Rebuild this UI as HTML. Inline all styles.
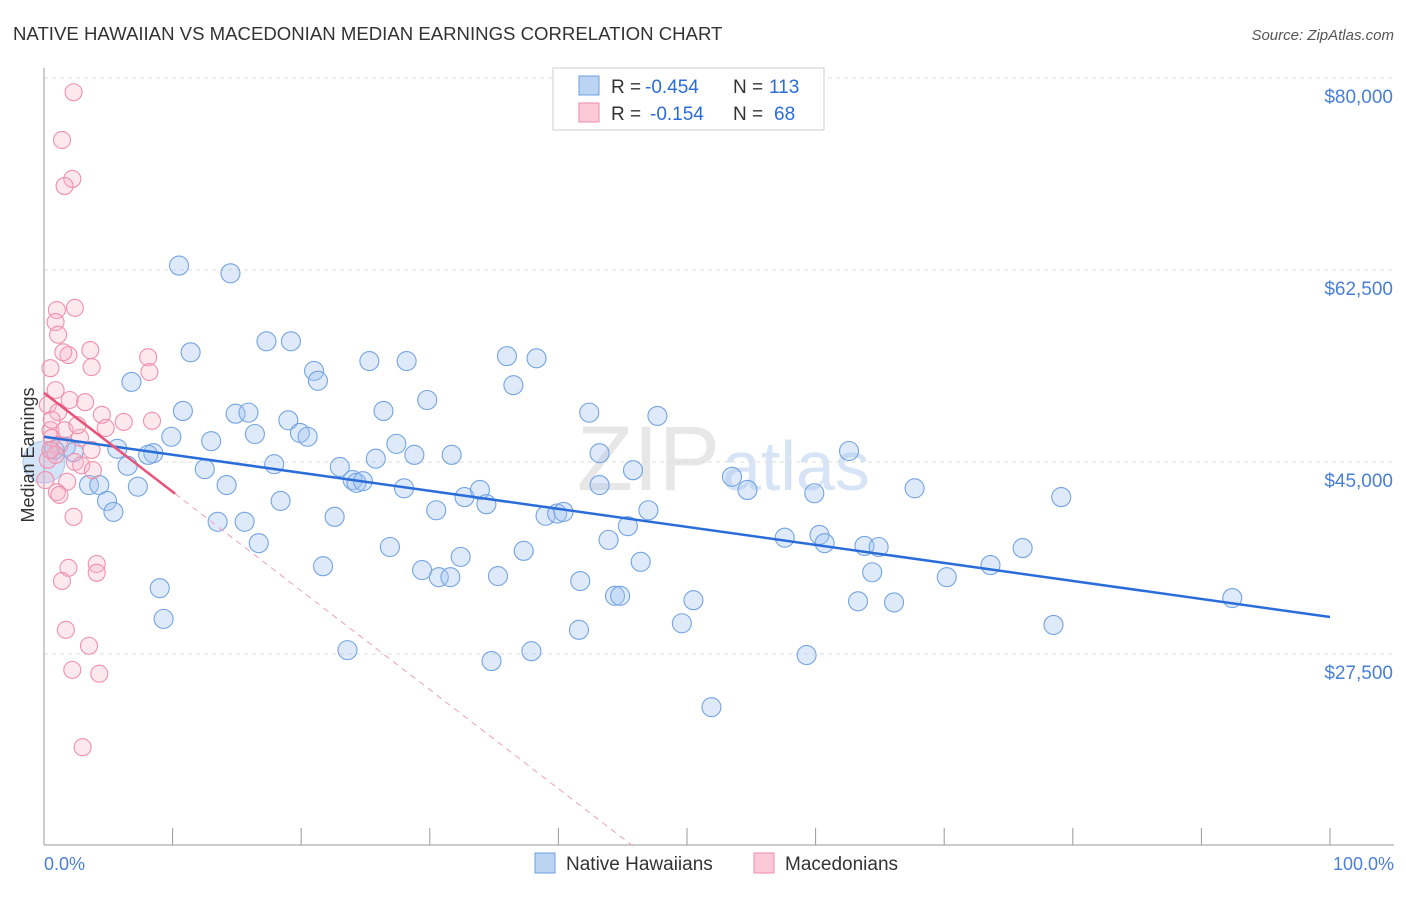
<!DOCTYPE html>
<html><head><meta charset="utf-8"><style>
body{margin:0;background:#fff;font-family:"Liberation Sans",sans-serif;}
svg text{font-family:"Liberation Sans",sans-serif;}
</style></head><body>
<svg id="chart" width="1406" height="892">
<text x="13" y="40" font-size="18.6" fill="#333">NATIVE HAWAIIAN VS MACEDONIAN MEDIAN EARNINGS CORRELATION CHART</text>
<text x="1394" y="40" font-size="15" fill="#555" text-anchor="end" font-style="italic">Source: ZipAtlas.com</text>
<text x="720" y="490" font-size="92" fill="#ddd" text-anchor="end" font-family="Liberation Serif" opacity="0.7">ZIP</text>
<text x="722" y="490" font-size="70" fill="#c5d9f2" opacity="0.7">atlas</text>
<g id="grid"></g><g id="axes"></g><g id="pts"></g><g id="lines"></g>
<text transform="translate(34,455) rotate(-90)" font-size="18" fill="#333" text-anchor="middle">Median Earnings</text>
<text x="44" y="870" font-size="18" fill="#4a7fd6">0.0%</text>
<text x="1394" y="870" font-size="18" fill="#4a7fd6" text-anchor="end">100.0%</text>
<g>
<rect x="553" y="68" width="271" height="62" fill="#fff" stroke="#ccc"/>
<rect x="579" y="76" width="20" height="19" fill="#bcd4f4" stroke="#6b9fe0"/>
<rect x="579" y="103" width="20" height="19" fill="#fbc9d8" stroke="#f08aa8"/>
<text x="611" y="93" font-size="19" fill="#333">R =</text>
<text x="645" y="93" font-size="19" fill="#2a6dd9">-0.454</text>
<text x="733" y="93" font-size="19" fill="#333">N =</text>
<text x="769" y="93" font-size="19" fill="#2a6dd9">113</text>
<text x="611" y="120" font-size="19" fill="#333">R =</text>
<text x="650" y="120" font-size="19" fill="#2a6dd9">-0.154</text>
<text x="733" y="120" font-size="19" fill="#333">N =</text>
<text x="774" y="120" font-size="19" fill="#2a6dd9">68</text>
</g>
<g>
<rect x="535" y="853" width="20" height="20" fill="#bcd4f4" stroke="#6b9fe0"/>
<text x="566" y="870" font-size="19" fill="#333">Native Hawaiians</text>
<rect x="754" y="853" width="20" height="20" fill="#fbc9d8" stroke="#f08aa8"/>
<text x="785" y="870" font-size="19" fill="#333">Macedonians</text>
</g>
</svg>
<script>
const yTicks=[80000,62500,45000,27500];
const yTickLabels=["$80,000","$62,500","$45,000","$27,500"];
const xTicks=[0,10,20,30,40,50,60,70,80,90,100];
const blueX=[10.5,14.5,11.4,17.3,19.2,6.8,10.8,14.9,15.9,21.0,21.3,25.3,28.2,36.0,38.3,36.5,26.4,29.8,42.4,47.7,5.7,9.9,13.0,16.4,19.0,19.9,20.5,8.5,8.1,6.5,12.5,14.2,17.9,23.0,24.0,24.3,24.8,25.8,27.4,28.8,31.7,28.0,43.2,45.8,53.5,62.6,67.7,79.1,3.5,4.3,7.3,4.9,5.4,18.4,13.5,15.6,22.6,30.5,32.7,33.9,34.4,39.0,39.9,40.4,43.2,47.0,45.4,54.7,59.9,16.7,26.9,32.4,37.3,43.9,46.4,57.6,60.3,60.7,63.8,64.9,73.6,76.1,9.0,21.7,29.4,30.7,31.6,35.3,41.7,44.4,44.8,50.5,64.4,70.2,9.3,49.6,63.3,66.1,78.5,92.4,23.6,34.8,37.9,41.6,59.3,51.9,1.7,2.3,0.8];
const blueY=[62900,62200,55000,56000,56000,52300,49650,49400,49500,53300,52400,54200,54200,54650,54450,52000,49650,50650,49500,49200,46200,47300,46900,47550,48800,47650,47300,45800,45650,44650,44350,42900,44800,44550,43350,43100,43250,45300,46650,45650,45650,42600,45800,44250,43650,46000,42600,41800,42900,42900,42750,41450,40450,41450,39550,39550,40000,40600,41800,42450,41150,40100,40300,40450,42900,40600,39150,42450,42150,37600,37250,36350,36900,37900,35900,38100,38350,37600,37350,37250,35600,37150,33500,35500,35150,34500,34500,34600,34150,32800,32800,32400,34950,34500,30700,30300,32300,32200,30150,32600,27850,26850,27750,29700,27400,22650,46400,45900,46100];
const pinkX=[2.3,1.4,2.2,1.6,1.0,2.4,0.9,1.1,1.9,3.6,0.5,3.7,8.1,8.2,0.9,0.3,1.1,2.0,3.2,4.5,6.2,8.4,0.5,1.6,2.8,3.7,0.6,1.2,2.4,2.9,3.8,1.8,1.0,1.2,2.3,1.9,4.1,1.4,4.1,1.7,3.5,2.2,4.3,3.0,0.3,0.9,0.6,2.6,4.8,1.5,0.5,0.1];
const pinkY=[78700,74350,70800,70150,58850,59050,57750,56600,54750,55200,53550,53650,54550,53200,51550,50200,49550,50650,50450,49300,48650,48750,47900,47900,47200,46100,47200,46550,45000,44700,44250,43200,42250,42000,40000,35350,35700,34150,34900,29700,28250,26050,25700,19000,45200,45650,48850,48350,48100,55000,46100,43350];
const blueTrend=[47300,30870];
const pinkTrend=[51300,42100];
const pinkSolidEnd=10.2;
const NS="http://www.w3.org/2000/svg";
const X=p=>44+p*12.86, Y=v=>78+(80000-v)/91.15;
function mk(t,a,parent){const e=document.createElementNS(NS,t);for(const k in a)e.setAttribute(k,a[k]);document.getElementById(parent).appendChild(e);return e;}
yTicks.forEach((v,i)=>{
 const l=mk('line',{x1:44,x2:1394,y1:Y(v),y2:Y(v),stroke:'#ddd','stroke-dasharray':'4,4'},'grid');
 
 
 const t=mk('text',{x:1393,y:Y(v)+25,'font-size':19,fill:'#4a7fd6','text-anchor':'end'},'grid');
 t.textContent=yTickLabels[i];
 
 
});
const ax=mk('line',{x1:44,x2:44,y1:68,y2:845,stroke:'#999'},'axes');


const bx=mk('line',{x1:44,x2:1394,y1:845,y2:845,stroke:'#999'},'axes');


xTicks.forEach(p=>{
 const t=mk('line',{x1:X(p),x2:X(p),y1:828,y2:845,stroke:'#999'},'axes');
 
 
});
blueX.forEach((x,i)=>{
 const c=mk('circle',{cx:X(x),cy:Y(blueY[i]),r:9.5,fill:'rgba(160,196,240,0.35)',stroke:'#74a4e2','stroke-width':1.1},'pts');
 
 
});
const big=mk('circle',{cx:X(0),cy:Y(45000),r:21,fill:'rgba(160,196,240,0.45)',stroke:'#a8c6ee','stroke-width':1},'pts');


pinkX.forEach((x,i)=>{
 const c=mk('circle',{cx:X(x),cy:Y(pinkY[i]),r:8.5,fill:'rgba(248,180,200,0.3)',stroke:'#f090ac','stroke-width':1.1},'pts');
 
 
});
const bl=mk('line',{x1:X(0),y1:Y(blueTrend[0]),x2:X(100),y2:Y(blueTrend[1]),stroke:'#2a6dd9','stroke-width':2.5},'lines');


const slope=(pinkTrend[1]-pinkTrend[0])/pinkSolidEnd;
const pl=mk('line',{x1:X(0),y1:Y(pinkTrend[0]),x2:X(pinkSolidEnd),y2:Y(pinkTrend[1]),stroke:'#e8537a','stroke-width':2.5},'lines');


const xEnd=(10000-pinkTrend[0])/slope;
const pd=mk('line',{x1:X(pinkSolidEnd),y1:Y(pinkTrend[1]),x2:X(xEnd),y2:Y(10000),stroke:'#f0a0b8','stroke-width':1,'stroke-dasharray':'6,5'},'lines');


</script>
</body></html>
